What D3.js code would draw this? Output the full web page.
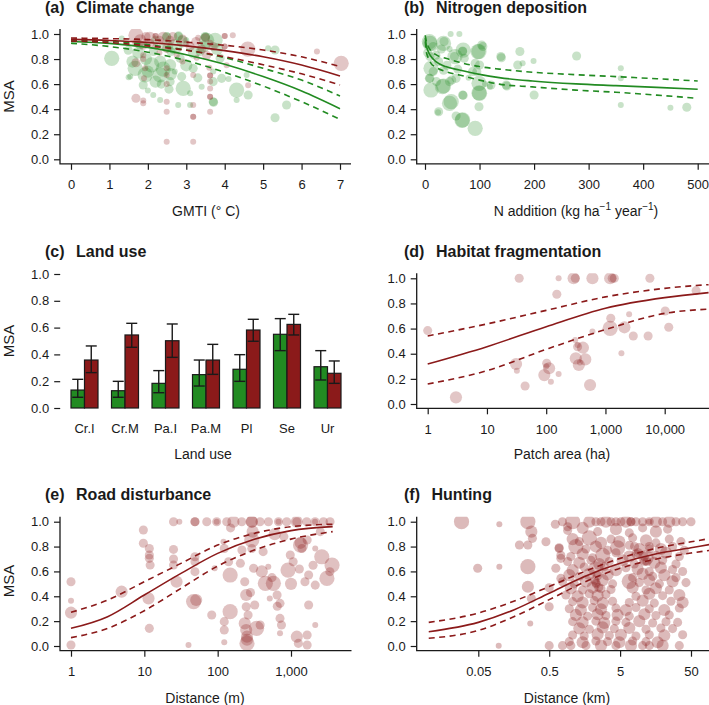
<!DOCTYPE html>
<html><head><meta charset="utf-8">
<script src="https://cdn.jsdelivr.net/npm/d3@7"></script>
<style>
body{margin:0;background:#fff}
svg{display:block}
text{font-family:"Liberation Sans",Arial,sans-serif}
</style>
</head><body>
<svg id="chart" width="709" height="705"></svg>
<script>
// ---------------- DATA ----------------
const msaTicks = [0, 0.2, 0.4, 0.6, 0.8, 1.0];

// (a) Climate change  [GMTI, MSA, size]
const climateGreen = [
[1.06,0.806,4],[1.67,0.726,4],[1.54,0.66,1],[1.49,0.87,2],[1.32,0.965,1],[1.8,0.912,2],[1.93,0.673,4],[2.1,0.753,4],
[2.32,0.673,4],[2.32,0.78,3],[2.14,0.86,2],[2.58,0.62,2],[2.49,0.98,2],[2.49,0.975,2],[2.79,0.98,2],[2.8,0.985,2],
[3.0,0.95,1],[3.53,0.95,4],[3.75,0.95,4],[3.49,0.98,2],[3.5,0.975,2],[2.84,0.806,2],[2.58,0.753,3],[2.92,0.566,4],
[3.1,0.527,1],[2.14,0.513,1],[2.32,0.473,1],[2.79,0.434,1],[3.1,0.434,1],[3.7,0.46,2],[3.71,0.455,2],[3.7,0.62,2],
[3.92,0.646,2],[4.31,0.553,4],[4.61,0.513,2],[4.31,0.473,1],[5.13,0.886,1],[5.31,0.872,2],[5.61,0.434,2],[5.31,0.332,2],
[1.88,0.593,2],[3.18,0.726,2],[3.36,0.86,2],[3.88,0.806,2],[4.57,0.673,1],[2.88,0.66,2],[2.5,0.9,3],[2.6,0.86,2],
[1.5,0.654,1],[2.0,0.55,1],[3.4,0.58,1],[3.7,0.7,1],[4.1,0.64,1],[2.7,0.7,1],
[1.6,0.78,3],[1.75,0.85,3],[2.0,0.7,3],[2.2,0.62,3],[2.4,0.72,4],[2.6,0.68,3],[2.7,0.9,4],[3.0,0.75,3],[3.2,0.85,3],
[3.3,0.65,2],[3.45,0.9,3],[2.9,0.94,3],[2.2,0.95,2],[1.95,0.8,3],[2.55,0.56,2],[3.8,0.88,3],[2.35,0.6,2]
];
const climateRed = [
[1.69,0.99,4],[1.95,0.98,2],[2.2,0.985,1],[2.2,0.985,1],[2.4,0.97,3],[2.58,0.95,2],[3.31,0.97,1],[3.5,0.97,2],
[4.0,0.985,1],[4.0,0.985,1],[4.21,0.99,1],[1.71,0.93,2],[1.88,0.91,2],[2.06,0.925,2],[2.2,0.9,1],[2.49,0.885,2],
[3.0,0.925,1],[3.25,0.94,2],[3.62,0.93,1],[4.0,0.9,1],[4.0,0.9,1],[4.6,0.88,4],[6.4,0.86,1],[7.03,0.766,4],
[1.88,0.83,1],[2.75,0.83,1],[3.27,0.81,1],[3.53,0.83,2],[1.69,0.77,2],[1.88,0.8,1],[1.93,0.726,1],[2.49,0.726,1],
[4.05,0.75,1],[3.6,0.73,1],[1.9,0.646,1],[2.49,0.673,1],[3.18,0.673,1],[3.62,0.668,1],[3.62,0.668,1],[2.49,0.6,1],
[3.62,0.62,1],[3.62,0.566,1],[4.61,0.59,1],[1.69,0.487,2],[1.88,0.47,1],[1.88,0.447,1],[2.49,0.46,1],[3.62,0.5,1],
[3.62,0.5,1],[3.18,0.434,1],[2.49,0.38,1],[3.62,0.38,1],[3.18,0.34,1],[3.18,0.34,1],[2.49,0.14,1],[3.18,0.14,1],
[1.8,0.95,3],[2.05,0.97,3],[2.3,0.95,2],[2.65,0.98,2],[2.9,0.96,2],[3.1,0.9,2],[3.4,0.88,2],[3.7,0.9,2],[2.3,0.85,1],[2.9,0.78,1]
];
const climateCurveX = [0, 1, 2, 3, 4, 5, 6, 7];
const climateRedFit = [0.957, 0.948, 0.932, 0.905, 0.867, 0.818, 0.752, 0.665];
const climateRedUp  = [0.968, 0.963, 0.955, 0.935, 0.910, 0.872, 0.818, 0.740];
const climateRedLo  = [0.944, 0.932, 0.905, 0.870, 0.818, 0.755, 0.682, 0.593];
const climateGreenFit = [0.940, 0.925, 0.893, 0.835, 0.758, 0.660, 0.545, 0.404];
const climateGreenUp  = [0.952, 0.942, 0.915, 0.872, 0.812, 0.726, 0.632, 0.505];
const climateGreenLo  = [0.926, 0.900, 0.855, 0.788, 0.694, 0.585, 0.460, 0.319];

// (b) Nitrogen deposition [N, MSA, size]
const nitrogenGreen = [
[8,0.94,4],[9,0.925,4],[20,0.83,2],[9,0.82,2],[11,0.726,4],[8,0.646,2],[9,0.646,2],[11,0.553,4],[21,0.62,2],
[32,0.58,4],[34,0.585,4],[34,0.925,4],[35,0.94,2],[34,0.71,2],[45,0.62,2],[47,1.0,1],[63,1.0,1],[54,0.82,2],
[55,0.82,4],[69,0.86,2],[69,0.865,2],[70,0.872,4],[72,0.806,2],[49,0.633,2],[57,0.646,2],[45,0.447,4],[48,0.46,4],
[24,0.375,1],[25,0.38,2],[57,0.346,2],[68,0.31,4],[69,0.314,4],[69,0.513,2],[70,0.51,2],[87,0.7,2],[92,0.766,2],
[92,0.247,4],[97,0.86,4],[99,0.86,4],[104,0.912,2],[106,0.9,2],[100,0.753,2],[99,0.606,4],[100,0.527,4],[99,0.53,4],
[99,0.42,2],[119,0.58,1],[121,0.593,2],[139,0.82,2],[140,0.81,2],[149,0.593,2],[150,0.585,2],[170,0.753,2],[174,0.86,2],
[179,0.766,1],[199,0.785,1],[200,0.513,2],[278,0.825,2],[359,0.726,1],[359,0.646,1],[359,0.434,1],[450,0.412,1],
[480,0.415,2],[15,0.7,2],[25,0.78,2],[40,0.75,2],[60,0.72,2],[80,0.65,1],[5,0.85,2],[15,0.9,2],[30,0.88,2],
[45,0.88,1],[95,0.7,2],[110,0.6,1]
];
const nitrogenCurveX = [0.5, 2, 5, 11, 20, 38, 63, 100, 136, 197, 277, 350, 425, 500];
const nitrogenFit = [0.97, 0.92, 0.87, 0.82, 0.78, 0.74, 0.713, 0.678, 0.652, 0.625, 0.602, 0.588, 0.574, 0.559];
const nitrogenUp  = [0.99, 0.95, 0.91, 0.865, 0.835, 0.806, 0.774, 0.74, 0.72, 0.695, 0.675, 0.66, 0.643, 0.625];
const nitrogenLo  = [0.94, 0.87, 0.82, 0.766, 0.735, 0.70, 0.673, 0.632, 0.60, 0.578, 0.552, 0.535, 0.512, 0.487];

// (c) Land use
const landUseCats = ["Cr.I", "Cr.M", "Pa.I", "Pa.M", "Pl", "Se", "Ur"];
const landUseGreen   = [0.134, 0.129, 0.184, 0.249, 0.289, 0.550, 0.308];
const landUseGreenLo = [0.080, 0.080, 0.114, 0.164, 0.199, 0.428, 0.209];
const landUseGreenHi = [0.214, 0.199, 0.279, 0.358, 0.398, 0.667, 0.428];
const landUseRed     = [0.358, 0.545, 0.502, 0.358, 0.582, 0.624, 0.259];
const landUseRedLo   = [0.264, 0.453, 0.378, 0.251, 0.498, 0.545, 0.184];
const landUseRedHi   = [0.463, 0.632, 0.627, 0.475, 0.662, 0.699, 0.351];

// (d) Habitat fragmentation [area ha, MSA, size]
const fragRed = [
[1,0.584,2],[3,0.053,3],[35,1.0,2],[31,0.318,3],[32,0.265,1],[44,0.143,2],[102,0.324,2],[112,0.284,3],[93,0.23,3],
[120,0.178,1],[162,0.239,1],[151,0.873,2],[162,1.0,1],[290,1.0,3],[310,1.0,2],[603,1.0,3],[1200,1.0,3],[1300,1.0,2],
[1410,1.0,2],[5620,1.0,2],[309,0.509,1],[339,0.456,2],[417,0.448,3],[316,0.363,3],[355,0.31,3],[457,0.355,3],
[550,0.151,3],[603,0.576,1],[1230,0.682,2],[1200,0.602,4],[2090,0.61,3],[2510,0.714,1],[2950,0.541,2],[1860,0.403,1],
[5250,0.541,2],[10200,0.74,2],[11700,0.61,2],[33900,0.902,2],[100,0.3,1],[370,0.33,1],[340,0.47,1]
];
const fragCurveX = [1, 10, 100, 1000, 10000, 55000];
const fragFit = [0.318, 0.456, 0.615, 0.762, 0.846, 0.886];
const fragUp  = [0.541, 0.637, 0.745, 0.852, 0.920, 0.950];
const fragLo  = [0.159, 0.265, 0.435, 0.592, 0.721, 0.755];

// (e) Road disturbance [distance m, MSA, size]
const roadRed = [
[25,1,2],[30,1,1],[49,1,2],[49,1,2],[71,1,2],[97,1,2],[97,1,1],[133,1,2],[164,1,3],[213,1,2],[292,1,3],[292,1,3],
[378,1,2],[492,1,2],[675,1,1],[675,1,2],[875,1,2],[1200,1,3],[1200,1,2],[1640,1,2],[2130,1,2],[2130,1,1],[2770,1,2],[3410,1,2],
[1,0.517,2],[1,0.365,1],[1,0.268,3],[1,0.008,2],[4.9,0.437,3],[9.7,0.933,2],[9.7,0.826,2],[11.7,0.785,2],[11.7,0.732,2],
[11.7,0.705,2],[12,0.651,2],[11.4,0.383,3],[11.7,0.142,2],[25,0.777,2],[25,0.7,2],[25,0.651,2],[27.5,0.517,3],[47,0.357,4],
[51,0.37,3],[49,0.598,2],[49,0.678,2],[49,0.718,2],[40,0.008,1],[83,0.249,2],[91,0.625,1],[120,0.839,1],[123,0.785,2],
[123,0.196,2],[123,0.129,2],[123,0.03,1],[148,0.276,4],[148,0.571,4],[141,0.678,2],[204,0.665,2],[214,0.772,2],[234,0.517,2],
[245,0.41,3],[245,0.316,2],[234,0.182,3],[245,0.129,3],[251,0.075,3],[251,0.021,4],[251,0.05,3],[292,0.853,4],[292,0.785,2],
[309,0.625,2],[339,0.142,4],[380,0.169,2],[417,0.759,2],[447,0.504,4],[490,0.638,1],[575,0.504,4],[646,0.41,2],[708,0.343,2],
[708,0.222,2],[741,0.169,2],[513,0.383,1],[708,0.102,1],[977,0.732,2],[912,0.611,4],[1070,0.678,2],[1200,0.075,3],[1260,0.021,2],
[1660,0.088,2],[1660,0.008,2],[1740,0.33,2],[1550,0.517,2],[1740,0.571,2],[2140,0.49,2],[2140,0.169,1],[1350,0.812,4],[1350,0.83,3],
[1410,0.785,2],[1660,0.853,2],[2140,0.785,1],[2630,0.718,4],[3090,0.544,4],[3630,0.651,4],[3390,0.598,2],[2510,0.92,2],[300,0.92,3],
[600,0.9,3],[800,0.88,2],[150,0.95,2],[400,0.6,3],[550,0.55,2],[280,0.43,2],[320,0.33,2],[260,0.25,2],[1000,0.5,3],[1300,0.62,2],
[2000,0.65,2],[650,0.32,2]
];
const roadCurveX = [1, 3.16, 10, 31.6, 100, 316, 1000, 3700];
const roadFit = [0.142, 0.236, 0.410, 0.584, 0.745, 0.858, 0.928, 0.960];
const roadUp  = [0.271, 0.370, 0.517, 0.665, 0.812, 0.906, 0.960, 0.980];
const roadLo  = [0.067, 0.142, 0.284, 0.464, 0.643, 0.772, 0.860, 0.920];

// (f) Hunting [distance km, MSA, size]
const huntRed = [
[0.029,1,4],[0.099,0.979,1],[0.049,0.625,2],[0.099,0.638,1],[0.097,0.003,1],[0.25,1,4],[0.28,0.92,3],[0.29,0.866,2],
[0.19,0.812,2],[0.25,0.812,2],[0.45,0.839,2],[0.25,0.638,4],[0.25,0.477,3],[0.28,0.383,2],[0.27,0.182,1],[0.5,0.469,2],
[0.5,0.316,2],[0.5,0.003,2],[0.61,0.979,2],[0.77,1,2],[0.69,0.785,2],[0.73,0.705,2],[0.73,0.544,2],[1.07,1,4],[0.91,0.96,2],
[1.84,1,3],[2.28,1,2],[2.69,1,2],[3.16,1,3],[3.72,1,2],[4.37,1,2],[5.14,1,2],[6.05,1,3],[7.11,1,2],[7.11,1,2],[8.37,1,2],
[10.4,1,2],[12.9,1,2],[12.9,1,1],[16,1,3],[19.9,1,2],[24.7,1,3],[30.7,1,2],[38.1,1,2],[50,1,2],
[0.91,0.93,2],[1.48,0.95,3],[2.41,0.92,2],[4.37,0.94,3],[6.74,0.91,2],[10.4,0.95,2],[16,0.92,3],[23.4,0.94,2],
[1.07,0.86,3],[1.33,0.84,2],[1.84,0.87,4],[2.69,0.83,3],[3.72,0.86,2],[4.87,0.84,3],[7.51,0.87,2],[11.6,0.85,3],
[16,0.83,2],[24.7,0.86,2],[36.1,0.84,2],
[0.69,0.79,2],[1.19,0.8,4],[1.65,0.78,2],[2.28,0.8,3],[3.33,0.77,2],[4.61,0.79,4],[6.74,0.81,2],[9.33,0.78,3],
[12.9,0.8,2],[18.8,0.78,3],[27.5,0.8,2],[40.2,0.77,2],
[0.73,0.73,2],[1.01,0.72,2],[1.48,0.74,3],[2.05,0.71,2],[2.84,0.73,4],[4.37,0.75,2],[6.74,0.72,3],[8.37,0.74,2],
[11.6,0.71,4],[16,0.73,2],[22.2,0.75,3],[34.2,0.72,2],
[0.91,0.68,2],[1.33,0.67,3],[1.94,0.69,2],[2.54,0.66,3],[3.52,0.68,2],[5.43,0.69,3],[7.93,0.66,2],[11,0.68,2],
[15.2,0.67,3],[19.9,0.69,2],[30.7,0.66,2],
[0.62,0.625,2],[1.07,0.61,3],[1.56,0.635,2],[2.28,0.62,4],[2.99,0.64,2],[4.37,0.61,3],[6.05,0.63,2],[8.83,0.62,3],
[12.9,0.6,2],[18.8,0.63,3],[27.5,0.615,2],[38.1,0.6,2],
[0.96,0.57,3],[1.33,0.56,2],[1.84,0.58,3],[2.41,0.565,2],[3.33,0.575,3],[7.51,0.55,2],[10.4,0.58,3],[14.4,0.56,2],
[21,0.57,3],[30.7,0.55,2],
[0.77,0.517,2],[1.13,0.5,2],[1.65,0.52,3],[2.28,0.51,2],[2.84,0.53,3],[3.92,0.5,2],[6.74,0.52,4],[9.33,0.51,2],
[12.9,0.53,3],[17.9,0.5,2],[27.5,0.52,3],[42.5,0.51,2],
[1.01,0.464,3],[1.48,0.45,2],[2.05,0.47,3],[2.69,0.46,2],[3.72,0.455,2],[7.51,0.47,3],[11.6,0.45,2],[16,0.465,3],[24.7,0.45,2],
[0.86,0.41,2],[1.26,0.4,3],[1.84,0.42,2],[2.41,0.405,3],[3.16,0.415,2],[8.37,0.4,2],[12.9,0.42,3],[19.9,0.405,2],[34.2,0.41,3],
[1.07,0.357,2],[1.48,0.35,3],[2.16,0.365,2],[2.84,0.345,3],[3.92,0.36,2],[6.74,0.35,2],[10.4,0.365,3],[15.2,0.345,2],
[26.1,0.36,2],[38.1,0.35,3],
[0.96,0.3,2],[1.4,0.29,3],[2.05,0.31,2],[2.69,0.295,3],[4.37,0.305,2],[6.05,0.29,3],[8.37,0.31,2],[12.9,0.3,2],
[21,0.29,3],[34.2,0.305,2],
[1.19,0.25,3],[1.74,0.24,2],[2.41,0.255,3],[3.16,0.245,2],[4.61,0.25,3],[6.74,0.24,2],[11,0.255,3],[16,0.245,2],[24.7,0.25,2],
[1.07,0.196,2],[1.48,0.19,3],[2.28,0.2,2],[2.99,0.185,3],[4.37,0.2,2],[6.05,0.19,2],[9.33,0.2,3],[14.4,0.185,2],
[22.2,0.195,2],[32.4,0.19,2],
[1.33,0.142,3],[1.84,0.135,2],[2.84,0.15,3],[4.14,0.14,2],[6.74,0.145,3],[11.6,0.135,2],[18.8,0.145,2],[27.5,0.14,2],
[1.07,0.088,2],[1.56,0.08,2],[2.41,0.095,3],[3.52,0.085,2],[5.14,0.09,3],[8.37,0.08,2],[12.9,0.09,2],[21,0.085,3],[38.1,0.09,2],
[0.96,0.035,2],[1.48,0.03,3],[2.28,0.04,2],[3.33,0.035,2],[4.87,0.03,3],[7.51,0.04,2],[11.6,0.035,2],[16.9,0.03,3],
[0.77,0.003,2],[1.01,0.003,2],[1.65,0.003,2],[2.69,0.003,3],[4.37,0.003,2],[7.11,0.003,3],[10.4,0.003,2],[12.9,0.003,2],
[19.9,0.003,3],[34.2,0.003,2],
[2.3,0.5,2],[2.5,0.47,2],[2.2,0.53,2],[9,0.75,2],[11,0.72,2],[13,0.78,2],[8,0.8,2],[12,0.68,2]
];
const huntCurveX = [0.01, 0.05, 0.158, 0.5, 1.58, 5, 15.8, 50, 100];
const huntFit = [0.115, 0.190, 0.290, 0.425, 0.560, 0.665, 0.740, 0.790, 0.820];
const huntUp  = [0.190, 0.265, 0.360, 0.478, 0.600, 0.705, 0.785, 0.838, 0.868];
const huntLo  = [0.062, 0.125, 0.235, 0.373, 0.515, 0.625, 0.698, 0.748, 0.772];

// ---------------- DRAWING ----------------
const GREEN = "#228B22", RED = "#8B1A1A", INK = "#1a1a1a";
const svg = d3.select("#chart");
const fmt1 = d3.format(".1f");
const rScale = d3.scaleLinear().domain([1, 4]).range([3, 7.6]);

function styleAxis(g) {
  g.attr("font-size", 13).attr("font-family", '"Liberation Sans",Arial,sans-serif').attr("color", INK);
  g.selectAll(".tick line").attr("stroke-width", 1.2);
  g.select(".domain").remove();
}

function frame(s) {
  const g = svg.append("g");
  svg.append("clipPath").attr("id", s.id).append("rect")
    .attr("x", s.left).attr("y", s.top).attr("width", s.right - s.left).attr("height", s.bottom - s.top);
  const plot = g.append("g").attr("clip-path", `url(#${s.id})`);
  g.append("g").attr("transform", `translate(${s.left},0)`)
    .call(d3.axisLeft(s.y).tickValues(msaTicks).tickFormat(fmt1).tickSize(6).tickPadding(5))
    .call(styleAxis);
  if (s.xTicks) {
    g.append("g").attr("transform", `translate(0,${s.bottom})`)
      .call(d3.axisBottom(s.x).tickValues(s.xTicks).tickFormat(s.xFmt).tickSize(6).tickPadding(10))
      .call(styleAxis);
    g.append("path").attr("d", `M${s.left},${s.top}V${s.bottom}H${s.right}`)
      .attr("fill", "none").attr("stroke", INK).attr("stroke-width", 1.3);
  }
  return plot;
}

function points(g, data, xs, ys, color, op) {
  g.append("g").selectAll("circle").data(data).join("circle")
    .attr("cx", d => xs(d[0])).attr("cy", d => ys(d[1])).attr("r", d => rScale(d[2]))
    .attr("fill", color).attr("fill-opacity", op || 0.25);
}

function curve(g, xv, yv, xs, ys, color, dashed) {
  const line = d3.line().x(d => xs(d[0])).y(d => ys(d[1])).curve(d3.curveMonotoneX);
  g.append("path").datum(xv.map((x, i) => [x, yv[i]])).attr("d", line)
    .attr("fill", "none").attr("stroke", color).attr("stroke-width", 1.6)
    .attr("stroke-dasharray", dashed ? "6,4.5" : null);
}

function title(x, y, tag, name) {
  const t = svg.append("text").attr("x", x).attr("y", y).attr("font-size", 16).attr("font-weight", "bold").attr("fill", INK).text(tag);
  const w = t.node().getComputedTextLength();
  svg.append("text").attr("x", x + w + 11.5).attr("y", y).attr("font-size", 16).attr("font-weight", "bold").attr("fill", INK).text(name);
}
function xlabel(x, y, txt) {
  return svg.append("text").attr("x", x).attr("y", y).attr("text-anchor", "middle").attr("font-size", 14).attr("fill", INK).text(txt);
}
function ylabel(cy) {
  svg.append("text").attr("transform", `translate(13.5,${cy}) rotate(-90)`).attr("text-anchor", "middle")
    .attr("font-size", 15).attr("fill", INK).text("MSA");
}

// row scales
const yRow1 = d3.scaleLinear([0, 1], [159.3, 34]);
const yRow2 = d3.scaleLinear([0, 1], [404, 278.3]);
const yBar  = d3.scaleLinear([0, 1], [408, 274]);
const yRow3 = d3.scaleLinear([0, 1], [646, 521.7]);

// (a)
{
  const x = d3.scaleLinear([0, 7], [71, 340]);
  const p = frame({id: "ca", x, y: yRow1, left: 60, right: 351, top: 29, bottom: 163.8,
    xTicks: climateCurveX, xFmt: d3.format("d")});
  points(p, climateGreen, x, yRow1, GREEN);
  points(p, climateRed, x, yRow1, RED);
  curve(p, climateCurveX, climateGreenFit, x, yRow1, GREEN, false);
  curve(p, climateCurveX, climateGreenUp, x, yRow1, GREEN, true);
  curve(p, climateCurveX, climateGreenLo, x, yRow1, GREEN, true);
  curve(p, climateCurveX, climateRedFit, x, yRow1, RED, false);
  curve(p, climateCurveX, climateRedUp, x, yRow1, RED, true);
  curve(p, climateCurveX, climateRedLo, x, yRow1, RED, true);
  title(45, 13, "(a)", "Climate change");
  xlabel(206, 215.5, "GMTI (\u00B0 C)");
  ylabel(96.5);
}
// (b)
{
  const x = d3.scaleLinear([0, 500], [425, 697.7]);
  const p = frame({id: "cb", x, y: yRow1, left: 416.7, right: 712, top: 29, bottom: 163.8,
    xTicks: [0, 100, 200, 300, 400, 500], xFmt: d3.format("d")});
  points(p, nitrogenGreen, x, yRow1, GREEN);
  curve(p, nitrogenCurveX, nitrogenFit, x, yRow1, GREEN, false);
  curve(p, nitrogenCurveX, nitrogenUp, x, yRow1, GREEN, true);
  curve(p, nitrogenCurveX, nitrogenLo, x, yRow1, GREEN, true);
  title(404, 13, "(b)", "Nitrogen deposition");
  const t = xlabel(576, 215.5, "N addition (kg ha");
  t.append("tspan").attr("font-size", 10).attr("dy", -6).text("\u22121");
  t.append("tspan").attr("dy", 6).text(" year");
  t.append("tspan").attr("font-size", 10).attr("dy", -6).text("\u22121");
  t.append("tspan").attr("dy", 6).text(")");
}
// (c)
{
  const xu = d3.scaleLinear([0.2, 21.8], [60.2, 351.8]);
  const band = d3.scaleBand(landUseCats, [xu(0), xu(22)]).paddingInner(1 / 3).paddingOuter(1 / 3);
  const sub = d3.scaleBand(["g", "r"], [0, band.bandwidth()]);
  frame({id: "cc", x: band, y: yBar, left: 60.2, right: 351.8, top: 274, bottom: 408});
  const rows = landUseCats.map((c, i) => [
    {c, k: "g", v: landUseGreen[i], lo: landUseGreenLo[i], hi: landUseGreenHi[i], col: GREEN},
    {c, k: "r", v: landUseRed[i], lo: landUseRedLo[i], hi: landUseRedHi[i], col: RED}
  ]).flat();
  const root = svg.append("g");
  root.selectAll("rect").data(rows).join("rect")
    .attr("x", d => band(d.c) + sub(d.k)).attr("width", sub.bandwidth())
    .attr("y", d => yBar(d.v)).attr("height", d => yBar(0) - yBar(d.v))
    .attr("fill", d => d.col).attr("stroke", INK).attr("stroke-width", 1.2);
  const cap = 5.5;
  const eb = root.selectAll("g.eb").data(rows).join("g").attr("class", "eb")
    .attr("transform", d => `translate(${band(d.c) + sub(d.k) + sub.bandwidth() / 2},0)`);
  eb.append("line").attr("y1", d => yBar(d.lo)).attr("y2", d => yBar(d.hi)).attr("stroke", INK).attr("stroke-width", 1.4);
  eb.append("line").attr("x1", -cap).attr("x2", cap).attr("y1", d => yBar(d.hi)).attr("y2", d => yBar(d.hi)).attr("stroke", INK).attr("stroke-width", 1.4);
  eb.append("line").attr("x1", -cap).attr("x2", cap).attr("y1", d => yBar(d.lo)).attr("y2", d => yBar(d.lo)).attr("stroke", INK).attr("stroke-width", 1.4);
  svg.append("g").attr("transform", "translate(0,408)")
    .call(d3.axisBottom(band).tickSize(0).tickPadding(16))
    .call(styleAxis);
  title(45, 256.5, "(c)", "Land use");
  xlabel(203, 459, "Land use");
  ylabel(341);
}
// (d)
{
  const x = d3.scaleLog([1, 10000], [427.7, 664.7]);
  const p = frame({id: "cd", x, y: yRow2, left: 416.7, right: 712, top: 273.3, bottom: 408.3,
    xTicks: [1, 10, 100, 1000, 10000], xFmt: d3.format(",")});
  points(p, fragRed, x, yRow2, RED);
  curve(p, fragCurveX, fragFit, x, yRow2, RED, false);
  curve(p, fragCurveX, fragUp, x, yRow2, RED, true);
  curve(p, fragCurveX, fragLo, x, yRow2, RED, true);
  title(404, 256.5, "(d)", "Habitat fragmentation");
  xlabel(562, 459, "Patch area (ha)");
}
// (e)
{
  const x = d3.scaleLog([1, 1000], [71, 291]);
  const p = frame({id: "ce", x, y: yRow3, left: 60, right: 351.5, top: 516.7, bottom: 650.7,
    xTicks: [1, 10, 100, 1000], xFmt: d3.format(",")});
  points(p, roadRed, x, yRow3, RED, 0.27);
  curve(p, roadCurveX, roadFit, x, yRow3, RED, false);
  curve(p, roadCurveX, roadUp, x, yRow3, RED, true);
  curve(p, roadCurveX, roadLo, x, yRow3, RED, true);
  title(45, 499.5, "(e)", "Road disturbance");
  xlabel(205, 702.5, "Distance (m)");
  ylabel(581);
}
// (f)
{
  const x = d3.scaleLog([0.05, 50], [478.3, 691]);
  const p = frame({id: "cf", x, y: yRow3, left: 416.7, right: 712, top: 516.7, bottom: 650.7,
    xTicks: [0.05, 0.5, 5, 50], xFmt: d => String(d)});
  points(p, huntRed, x, yRow3, RED, 0.3);
  curve(p, huntCurveX, huntFit, x, yRow3, RED, false);
  curve(p, huntCurveX, huntUp, x, yRow3, RED, true);
  curve(p, huntCurveX, huntLo, x, yRow3, RED, true);
  title(404, 499.5, "(f)", "Hunting");
  xlabel(567, 702.5, "Distance (km)");
}
</script>
</body></html>
